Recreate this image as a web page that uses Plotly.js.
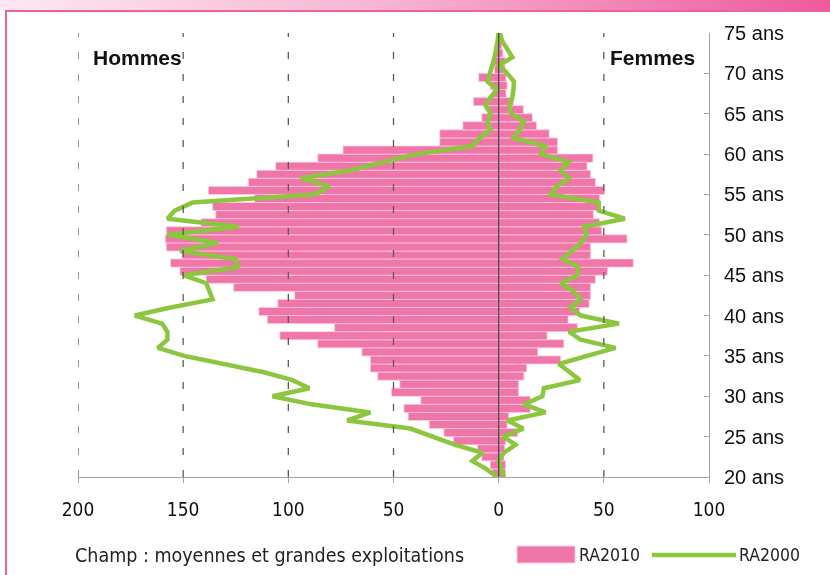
<!DOCTYPE html>
<html>
<head>
<meta charset="utf-8">
<script src="https://cdn.plot.ly/plotly-3.0.1.min.js"></script>
<style>
  html, body { margin: 0; padding: 0; background: #ffffff; }
  #wrap { position: relative; width: 830px; height: 575px; overflow: hidden; background: #ffffff; }
  #band { position: absolute; left: 0; top: 0; width: 830px; height: 10px;
          background: linear-gradient(to right, #fde8f1 0%, #f7b6d2 45%, #ee5a9b 100%); }
  #frame { position: absolute; left: 5px; top: 10px; width: 840px; height: 600px;
           border-left: 2px solid #ee5fa0; border-top: 2px solid #ee5fa0; }
  #chart { position: absolute; left: 0; top: 0; width: 830px; height: 575px; }
  #chart .shapelayer path { mix-blend-mode: multiply; }
</style>
</head>
<body>
<div id="wrap">
  <div id="band"></div>
  <div id="frame"></div>
  <div id="chart"></div>
</div>
<script>
// ---- Data ----
const barAges = [20,21,22,23,24,25,26,27,28,29,30,31,32,33,34,35,36,37,38,39,40,41,42,43,44,45,46,47,48,49,50,51,52,53,54,55,56,57,58,59,60,61,62,63,64,65,66,67,68,69,70,71,72,73,74];
const hommes2010 = [3,4,8,10,21.5,26,33,43,45,37,51,47,57.5,61,61,65,86,104,78,110,114,105,97,126,139,151.5,156,150.5,158,158.5,158,141.5,134.5,136,116,138,119,115,106,86,74,28,28,17,8,5,12,3,4,9.5,2,2,1.5,1,1];
const femmes2010 = [3.3,3.3,2.5,2.9,3.3,9,4,4.8,15,15,9.5,9.5,12,13.3,29.5,18.6,31,23,37.4,33,38.5,43,43.7,43.7,46,51.8,64,43.7,43.7,61,49,48,45,48,48,50.4,46,43.7,42,44.8,28,28,24,18,16,11.7,7,3.5,4,3.5,3,3,2,1.5,1];

const lineAges = [20,21,22,23,24,25,26,27,28,29,30,31,32,33,34,35,36,37,38,39,40,41,42,43,44,45,46,47,48,49,50,51,52,53,54,55,56,57,58,59,60,61,62,63,64,65,66,67,68,69,70,71,72,73,74,75];
const hommes2000 = [0.6,6,12.5,7.7,21,32,42,72,61,89,107.5,90,98,112,132,149.5,162,157.5,157.5,160,173,156,136,137.5,139,150,124,125,151.5,133.5,157.5,123.5,157.5,154,145.5,87.5,80.5,94,70,55,39,12.5,9,3.8,5.4,3.8,6.2,4,0.6,5.4,4,3,2,1,0.5,0];
const femmes2000 = [2.5,1.5,0,2.5,8,2.2,11.7,4.1,22.3,12,20.8,21.5,38.6,33.7,28.6,42,55.6,39,33.4,57.2,39,34.2,39,35.6,29.5,37.4,37.9,30.3,34.7,39,41.8,40.5,60,47.6,47.6,24.7,27.6,33.4,29.5,33.4,20,22,7,10,12,6,5,6.5,7,7.3,4,0.2,6.5,4,1.7,0.6];

const xTickVals = [-200,-150,-100,-50,0,50,100];
const xTickText = ['200','150','100','50','0','50','100'];
const yTickVals = [20,25,30,35,40,45,50,55,60,65,70,75];
const yTickText = ['20 ans','25 ans','30 ans','35 ans','40 ans','45 ans','50 ans','55 ans','60 ans','65 ans','70 ans','75 ans'];
const gridVals = [-200,-150,-100,-50,50];

const seriesNames = ['RA2010','RA2000'];
const sideLabels = ['Hommes','Femmes'];
const noteText = 'Champ : moyennes et grandes exploitations';

// ---- Styles ----
const PINK = '#f075a9';
const PINK_EDGE = 'rgba(255,205,225,0.95)';
const GREEN = '#8cc63f';
const NARROW = '"DejaVu Sans Condensed", "Liberation Sans Narrow", "Liberation Sans", Arial, sans-serif';
const SANS = '"Liberation Sans", Arial, Helvetica, sans-serif';

// plot area in pixels
const W = 830, H = 575, L = 78, R = 121, T = 33, B = 98;
const pw = W - L - R, ph = H - T - B;
const px2x = p => (p - L) / pw;
const py2y = p => (H - B - p) / ph;

const barY = barAges.map(a => a + 0.5);

const traces = [
  { type: 'bar', orientation: 'h', name: seriesNames[0], y: barY, x: hommes2010.map(v => -v),
    marker: { color: PINK, line: { color: PINK_EDGE, width: 0.8 } }, width: 1, showlegend: false, hoverinfo: 'skip' },
  { type: 'bar', orientation: 'h', name: seriesNames[0], y: barY, x: femmes2010,
    marker: { color: PINK, line: { color: PINK_EDGE, width: 0.8 } }, width: 1, showlegend: false, hoverinfo: 'skip' },
  { type: 'scatter', mode: 'lines', name: seriesNames[1], y: lineAges, x: hommes2000.map(v => -v),
    line: { color: GREEN, width: 4.5 }, showlegend: false, hoverinfo: 'skip' },
  { type: 'scatter', mode: 'lines', name: seriesNames[1], y: lineAges, x: femmes2000,
    line: { color: GREEN, width: 4.5 }, showlegend: false, hoverinfo: 'skip' }
];

const shapes = gridVals.map(v => ({
  type: 'line', xref: 'x', yref: 'paper', x0: v, x1: v, y0: 0, y1: 1, layer: 'above',
  line: { color: '#5a5a5a', width: 1.3, dash: '7px,15px' }
}));
shapes.push({ type: 'line', xref: 'x', yref: 'paper', x0: 0, x1: 0, y0: 0, y1: 1, layer: 'above',
  line: { color: '#4a4a4a', width: 1.3 } });

// custom legend (swatches)
shapes.push({ type: 'rect', xref: 'paper', yref: 'paper', layer: 'above',
  x0: px2x(517), x1: px2x(575), y0: py2y(563), y1: py2y(546),
  fillcolor: PINK, line: { color: PINK_EDGE, width: 1 } });
shapes.push({ type: 'line', xref: 'paper', yref: 'paper', layer: 'above',
  x0: px2x(652), x1: px2x(736), y0: py2y(555), y1: py2y(555),
  line: { color: GREEN, width: 4.5 } });

const annotations = [
  { text: '<b>' + sideLabels[0] + '</b>', xref: 'paper', yref: 'paper', x: px2x(91), y: py2y(57),
    xanchor: 'left', yanchor: 'middle', showarrow: false, font: { family: SANS, size: 21, color: '#111' } },
  { text: '<b>' + sideLabels[1] + '</b>', xref: 'paper', yref: 'paper', x: px2x(608), y: py2y(57),
    xanchor: 'left', yanchor: 'middle', showarrow: false, font: { family: SANS, size: 21, color: '#111' } },
  { text: noteText, xref: 'paper', yref: 'paper', x: px2x(73), y: py2y(555),
    xanchor: 'left', yanchor: 'middle', showarrow: false, font: { family: NARROW, size: 19.5, color: '#222' } },
  { text: seriesNames[0], xref: 'paper', yref: 'paper', x: px2x(577), y: py2y(555),
    xanchor: 'left', yanchor: 'middle', showarrow: false, font: { family: NARROW, size: 17.5, color: '#222' } },
  { text: seriesNames[1], xref: 'paper', yref: 'paper', x: px2x(737), y: py2y(555),
    xanchor: 'left', yanchor: 'middle', showarrow: false, font: { family: NARROW, size: 17.5, color: '#222' } }
];

const layout = {
  width: W, height: H, autosize: false,
  margin: { l: L, r: R, t: T, b: B, pad: 0 },
  paper_bgcolor: 'rgba(0,0,0,0)', plot_bgcolor: 'rgba(0,0,0,0)',
  barmode: 'overlay', bargap: 0,
  showlegend: false,
  xaxis: {
    range: [-200, 100], tickmode: 'array', tickvals: xTickVals, ticktext: xTickText,
    showgrid: false, zeroline: false, showline: true, linecolor: '#a6a6a6', linewidth: 1,
    ticks: 'outside', ticklen: 5, tickcolor: '#a6a6a6', ticklabelstandoff: 10,
    tickfont: { family: NARROW, size: 19, color: '#111' }, fixedrange: true
  },
  yaxis: {
    range: [20, 75], side: 'right', tickmode: 'array', tickvals: yTickVals, ticktext: yTickText,
    showgrid: false, zeroline: false, showline: true, linecolor: '#a6a6a6', linewidth: 1,
    ticks: 'inside', ticklen: 5, tickcolor: '#a6a6a6', ticklabelstandoff: 10,
    tickfont: { family: SANS, size: 20, color: '#111' }, fixedrange: true
  },
  shapes: shapes,
  annotations: annotations
};

Plotly.newPlot('chart', traces, layout, { staticPlot: true, displayModeBar: false });
</script>
</body>
</html>
